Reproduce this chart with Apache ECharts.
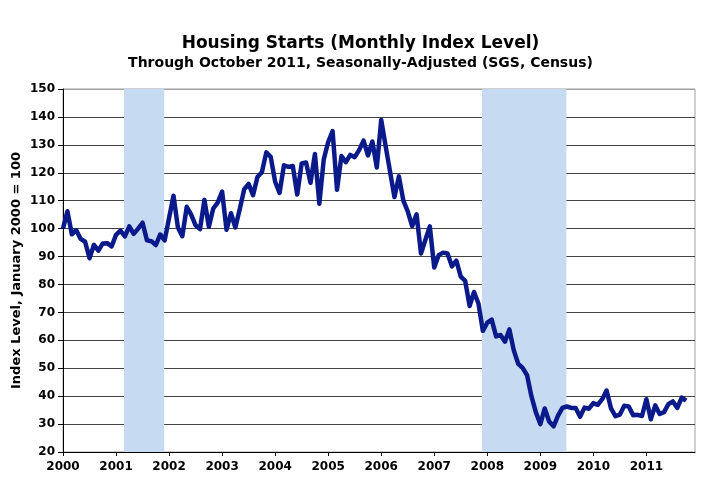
<!DOCTYPE html>
<html>
<head>
<meta charset="utf-8">
<script src="https://cdn.jsdelivr.net/npm/echarts@6/dist/echarts.min.js"></script>
<style>
html,body{margin:0;padding:0;background:#fff;}
#chart{width:721px;height:500px;}
</style>
</head>
<body>
<div id="chart"></div>
<script>
// Monthly index level (Jan 2000 = 100), Jan 2000 .. Oct 2011
const startYear = 2000;
const values2000 = [100.0, 106.2, 98.0, 99.4, 96.3, 95.3, 89.4, 94.2, 92.1, 94.7, 94.8, 93.6];
const values2001 = [97.8, 99.3, 97.2, 100.8, 98.1, 100.0, 102.1, 95.8, 95.5, 94.1, 97.9, 95.8];
const values2002 = [103.8, 111.8, 100.4, 97.3, 107.8, 105.0, 101.2, 99.8, 110.3, 100.7, 107.2, 109.3];
const values2003 = [113.3, 99.6, 105.5, 100.4, 107.0, 114.1, 116.0, 112.0, 118.5, 120.2, 127.3, 125.7];
const values2004 = [116.8, 112.8, 122.7, 122.1, 122.4, 112.2, 123.3, 123.7, 116.4, 126.7, 108.9, 124.8];
const values2005 = [131.0, 134.9, 113.9, 126.0, 123.8, 126.4, 125.6, 128.1, 131.5, 126.2, 131.2, 121.9];
const values2006 = [138.9, 129.5, 120.4, 111.3, 118.7, 110.1, 106.2, 100.9, 105.1, 91.1, 96.0, 100.8];
const values2007 = [86.1, 90.5, 91.4, 91.1, 86.5, 88.5, 82.8, 81.3, 72.3, 77.3, 73.2, 63.4];
const values2008 = [66.3, 67.4, 61.4, 61.9, 59.5, 63.9, 56.4, 51.6, 50.1, 47.5, 39.9, 34.2];
const values2009 = [30.0, 35.6, 30.9, 29.2, 33.0, 35.8, 36.3, 35.8, 35.8, 32.6, 35.9, 35.5];
const values2010 = [37.5, 36.9, 38.9, 42.0, 35.6, 32.8, 33.4, 36.6, 36.3, 33.2, 33.3, 32.9];
const values2011 = [38.9, 31.7, 36.7, 33.6, 34.3, 37.2, 38.1, 35.8, 39.5, 38.4];

// Recessions as [first month, last month] (month index from Jan 2000)
const recessions = [[14, 22], [95, 113]]; // Mar 2001–Nov 2001, Dec 2007–Jun 2009

const yearLabels = ['2000','2001','2002','2003','2004','2005','2006','2007','2008','2009','2010','2011'];

const allValues = [].concat(values2000, values2001, values2002, values2003, values2004, values2005,
  values2006, values2007, values2008, values2009, values2010, values2011);
const seriesData = allValues.map((v, i) => [i, v]);

const FONT = '"DejaVu Sans", Arial, sans-serif';
const gridColors = [];
for (let k = 0; k <= 13; k++) gridColors.push(k === 13 ? '#a0a0a0' : '#444444');

const chart = echarts.init(document.getElementById('chart'), null, {renderer: 'canvas'});
chart.setOption({
  animation: false,
  backgroundColor: '#fff',
  title: {
    text: 'Housing Starts (Monthly Index Level)',
    subtext: 'Through October 2011, Seasonally-Adjusted (SGS, Census)',
    left: 'center',
    top: 30,
    itemGap: 4,
    textStyle: {fontFamily: FONT, fontWeight: 'bold', fontSize: 17, color: '#000'},
    subtextStyle: {fontFamily: FONT, fontWeight: 'bold', fontSize: 14, color: '#000'}
  },
  grid: {left: 63, right: 26, top: 89, bottom: 48, containLabel: false, outerBoundsMode: 'none',
    show: true, borderColor: '#a0a0a0', borderWidth: 1, backgroundColor: 'transparent'},
  xAxis: {
    type: 'value', min: 0, max: 143, interval: 12,
    axisLine: {show: true, lineStyle: {color: '#000', width: 1}},
    axisTick: {show: true, length: 4, lineStyle: {color: '#000'}},
    splitLine: {show: false},
    axisLabel: {
      fontFamily: FONT, fontWeight: 'bold', fontSize: 12, color: '#000', margin: 9,
      showMaxLabel: false,
      formatter: function (v) { return (v % 12 === 0 && v / 12 < yearLabels.length) ? yearLabels[v / 12] : ''; }
    }
  },
  yAxis: {
    type: 'value', min: 20, max: 150, interval: 10,
    name: 'Index Level, January 2000 = 100',
    nameLocation: 'middle', nameRotate: 90, nameGap: 40, nameMoveOverlap: false,
    nameTextStyle: {fontFamily: FONT, fontWeight: 'bold', fontSize: 13, color: '#000'},
    axisLine: {show: true, lineStyle: {color: '#000', width: 1}},
    axisTick: {show: true, length: 5, lineStyle: {color: '#000'}},
    splitLine: {show: true, lineStyle: {color: gridColors, width: 1}},
    axisLabel: {fontFamily: FONT, fontWeight: 'bold', fontSize: 12, color: '#000', margin: 8}
  },
  series: [{
    type: 'line',
    data: seriesData,
    showSymbol: false,
    lineStyle: {color: '#0b1a8a', width: 4.5, join: 'round'},
    itemStyle: {color: '#0b1a8a'},
    markArea: {
      silent: true,
      itemStyle: {color: '#c6daf2'},
      data: recessions.map(r => [{xAxis: r[0] - 0.2}, {xAxis: r[1] + 0.9}])
    },
    z: 3
  }]
});
</script>
</body>
</html>
